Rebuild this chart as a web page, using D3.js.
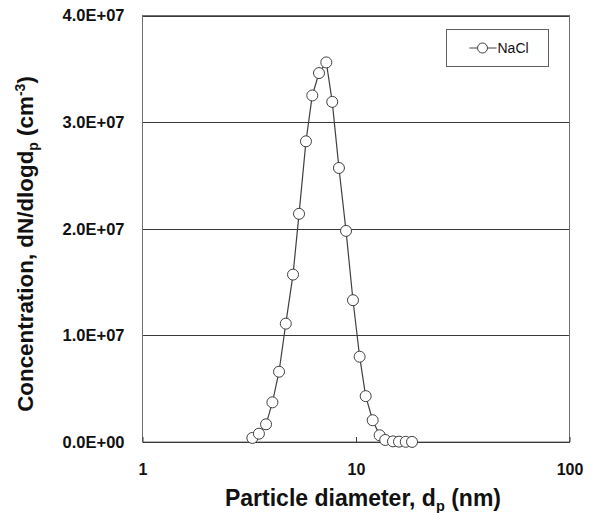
<!doctype html>
<html>

<head>
    <meta charset="utf-8">
    <title>NaCl size distribution</title>
    <script type="text/javascript" src="https://cdn.jsdelivr.net/npm/d3@7"></script>
    <style type="text/css">
        html,
        body {
            margin: 0;
            padding: 0;
            background: #fff;
        }

        #chart svg {
            display: block;
            font-family: "Liberation Sans", Arial, sans-serif;
        }
    </style>

    <script type="text/javascript">
        // particle diameter (nm)
        var diameters = [3.27, 3.51, 3.79, 4.06, 4.36, 4.69, 5.07, 5.41, 5.83, 6.24, 6.71, 7.26,
            7.74, 8.32, 8.98, 9.68, 10.4, 11.1, 11.97, 12.9, 13.7, 14.9, 15.9, 17.1, 18.3]
        // dN/dlogdp (cm-3)
        var concentrations = [3.8e5, 7.8e5, 1.66e6, 3.72e6, 6.59e6, 1.11e7, 1.57e7, 2.14e7, 2.82e7,
            3.25e7, 3.46e7, 3.56e7, 3.19e7, 2.57e7, 1.98e7, 1.33e7, 8.0e6, 4.3e6, 2.04e6, 6.3e5,
            1.9e5, 6e4, 3e4, 2e4, 1e4]
        var xTicks = [1, 10, 100]
        var yTicks = [0, 1e7, 2e7, 3e7, 4e7]
        var seriesName = "NaCl"
    </script>

    <script type="text/javascript">
        document.addEventListener("DOMContentLoaded", function (e) {

            var width = 596, height = 513
            var plot = { left: 142.5, right: 569.5, top: 15.5, bottom: 442 }

            var svg = d3.select("#chart").append("svg")
                .attr("width", width)
                .attr("height", height)

            var x = d3.scaleLog().domain([1, 100]).range([plot.left, plot.right])
            var y = d3.scaleLinear().domain([0, 4e7]).range([plot.bottom, plot.top])

            // horizontal gridlines
            svg.append("g").selectAll("line")
                .data(yTicks.slice(1))
                .join("line")
                .attr("x1", plot.left).attr("x2", plot.right)
                .attr("y1", d => Math.round(y(d)) + 0.5).attr("y2", d => Math.round(y(d)) + 0.5)
                .attr("stroke", "#3a3a3a").attr("stroke-width", 1)

            // plot frame
            svg.append("rect")
                .attr("x", plot.left).attr("y", plot.top)
                .attr("width", plot.right - plot.left).attr("height", plot.bottom - plot.top)
                .attr("fill", "none").attr("stroke", "#707070").attr("stroke-width", 1)

            // bottom axis: inward ticks, labels below
            var xAxis = d3.axisBottom(x).tickValues(xTicks).tickFormat(d3.format("d"))
                .tickSizeInner(-5).tickSizeOuter(0).tickPadding(22)
            var gx = svg.append("g")
                .attr("transform", "translate(0," + plot.bottom + ")")
                .call(xAxis)
            gx.select(".domain").attr("stroke", "#3a3a3a")
            gx.selectAll(".tick line").attr("stroke", "#3a3a3a")
            gx.selectAll("text")
                .attr("fill", "#111").attr("font-size", "16px").attr("font-weight", "bold")
                .attr("font-family", "'Liberation Sans', Arial, sans-serif")

            // left axis: labels only
            var yAxis = d3.axisLeft(y).tickValues(yTicks)
                .tickFormat(d => d3.format(".1e")(d).toUpperCase().replace(/E([+-])(\d)$/, "E$10$2"))
                .tickSize(0).tickPadding(18)
            var gy = svg.append("g")
                .attr("transform", "translate(" + plot.left + ",0)")
                .call(yAxis)
            gy.select(".domain").remove()
            gy.selectAll("text")
                .attr("fill", "#111").attr("font-size", "16.5px").attr("font-weight", "bold")
                .attr("font-family", "'Liberation Sans', Arial, sans-serif")

            // series line and markers
            var pts = diameters.map((d, i) => [d, concentrations[i]])
            var line = d3.line().x(d => x(d[0])).y(d => y(d[1]))
            svg.append("path")
                .datum(pts)
                .attr("d", line)
                .attr("fill", "none").attr("stroke", "#404040").attr("stroke-width", 1.2)

            svg.append("g").selectAll("circle")
                .data(pts)
                .join("circle")
                .attr("cx", d => x(d[0])).attr("cy", d => y(d[1]))
                .attr("r", 5.5)
                .attr("fill", "#fff").attr("stroke", "#404040").attr("stroke-width", 1)

            // legend
            var lg = svg.append("g").attr("transform", "translate(446.5,29.5)")
            lg.append("rect").attr("width", 102).attr("height", 37)
                .attr("fill", "#fff").attr("stroke", "#606060")
            lg.append("line").attr("x1", 23).attr("x2", 50).attr("y1", 18.5).attr("y2", 18.5)
                .attr("stroke", "#404040")
            lg.append("circle").attr("cx", 36).attr("cy", 18.5).attr("r", 5)
                .attr("fill", "#fff").attr("stroke", "#404040")
            lg.append("text").attr("x", 51).attr("y", 23.5)
                .attr("font-size", "14px").attr("fill", "#111")
                .text(seriesName)

            // x axis title
            var xt = svg.append("text")
                .attr("x", 363).attr("y", 506)
                .attr("text-anchor", "middle")
                .attr("font-size", "23px").attr("font-weight", "bold").attr("fill", "#111")
            xt.append("tspan").text("Particle diameter, d")
            xt.append("tspan").attr("font-size", "14.5px").attr("dy", 5).text("p")
            xt.append("tspan").attr("dy", -5).text(" (nm)")

            // y axis title
            var yt = svg.append("text")
                .attr("transform", "translate(33,244) rotate(-90)")
                .attr("text-anchor", "middle")
                .attr("font-size", "22.4px").attr("font-weight", "bold").attr("fill", "#111")
            yt.append("tspan").text("Concentration, dN/dlogd")
            yt.append("tspan").attr("font-size", "14px").attr("dy", 5).text("p")
            yt.append("tspan").attr("dy", -5).text(" (cm")
            yt.append("tspan").attr("font-size", "14px").attr("dy", -8).text("-3")
            yt.append("tspan").attr("dy", 8).text(")")

        })
    </script>

</head>

<body>
    <div id="chart"></div>
</body>

</html>
